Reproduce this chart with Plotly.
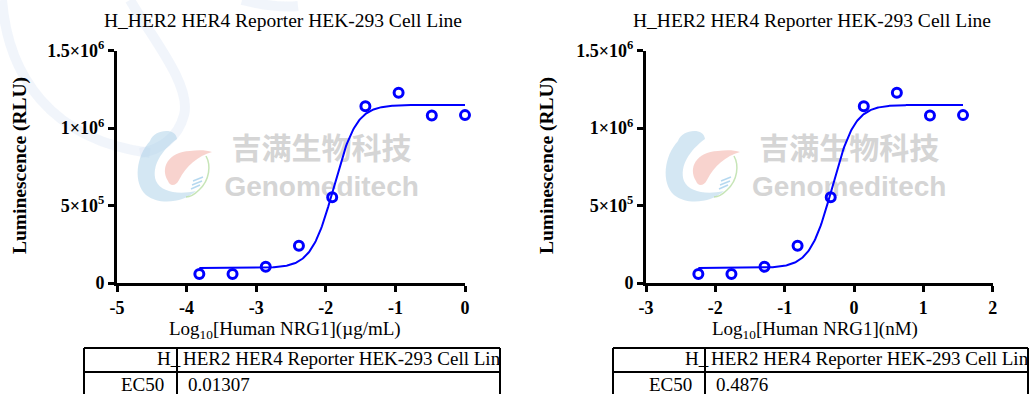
import plotly.graph_objects as go
import math

# ---------------- data ----------------
log_conc_ugml = [-3.817, -3.340, -2.863, -2.386, -1.908, -1.431, -0.954, -0.477, 0.0]
log_conc_nM = [-2.245, -1.768, -1.291, -0.814, -0.336, 0.141, 0.618, 1.095, 1.572]
rlu = [58000, 58000, 105000, 241000, 553000, 1142000, 1228000, 1082000, 1084000]

# 4PL fit parameters (GraphPad-style curve)
fit_bottom = 97000
fit_top = 1150000
fit_hill = 2.7
ec50_ugml = 0.01307
ec50_nM = 0.4876

x_ticks_left = [-5, -4, -3, -2, -1, 0]
x_ticks_right = [-3, -2, -1, 0, 1, 2]
y_ticks = [0, 500000, 1000000, 1500000]
y_ticktext = ["0", "5×10<sup>5</sup>", "1×10<sup>6</sup>", "1.5×10<sup>6</sup>"]

title_text = "H_HER2 HER4 Reporter HEK-293 Cell Line"
table_header = "HER2 HER4 Reporter HEK-293 Cell Line"
row_label = "EC50"
ec50_text_left = "0.01307"
ec50_text_right = "0.4876"


def four_pl(x, logec50):
    return fit_bottom + (fit_top - fit_bottom) / (1 + 10 ** ((logec50 - x) * fit_hill))


def curve(xs):
    lo, hi = min(xs), max(xs)
    n = 300
    return [lo + (hi - lo) * i / (n - 1) for i in range(n)]


W, H = 1031, 394


def X(px):
    return px / W


def Y(py):
    return 1 - py / H


BLUE = "rgb(0,0,255)"
SERIF = "Liberation Serif, Times New Roman, serif"

fig = go.Figure()

# watermark text (drawn first, under data)
for xa, ya, cx in [("x", "y", -2.06), ("x2", "y2", -0.07)]:
    fig.add_trace(go.Scatter(x=[cx], y=[8.52e5], mode="text", text=["吉满生物科技"],
                             textfont=dict(family="Noto Sans CJK SC", size=30, color="rgb(213,213,213)", weight="bold"),
                             xaxis=xa, yaxis=ya, hoverinfo="skip", showlegend=False))
    fig.add_trace(go.Scatter(x=[cx], y=[6.07e5], mode="text", text=["Genomeditech"],
                             textfont=dict(family="Liberation Sans", size=28, color="rgb(213,213,213)", weight="bold"),
                             xaxis=xa, yaxis=ya, hoverinfo="skip", showlegend=False))

# curves + points
for xs, lec, xa, ya in [(log_conc_ugml, math.log10(ec50_ugml), "x", "y"),
                        (log_conc_nM, math.log10(ec50_nM), "x2", "y2")]:
    cx = curve(xs)
    fig.add_trace(go.Scatter(x=cx, y=[four_pl(v, lec) for v in cx], mode="lines",
                             line=dict(color=BLUE, width=2), xaxis=xa, yaxis=ya,
                             showlegend=False, hoverinfo="skip"))
    fig.add_trace(go.Scatter(x=xs, y=rlu, mode="markers",
                             marker=dict(symbol="circle-open", size=9, color=BLUE, line=dict(color=BLUE, width=3)),
                             xaxis=xa, yaxis=ya, showlegend=False, cliponaxis=False))

axis_common = dict(showline=True, linecolor="black", linewidth=3, ticks="outside", ticklen=6,
                   tickwidth=3, tickcolor="black", showgrid=False, zeroline=False, automargin=False,
                   tickfont=dict(family=SERIF, size=18, color="black"))


def bold(labels):
    return ["<b>" + str(t) + "</b>" for t in labels]


ydom = [Y(283), Y(50.7)]
fig.update_layout(
    template="none",
    width=W, height=H, margin=dict(l=0, r=0, t=0, b=0, pad=0, autoexpand=False),
    paper_bgcolor="white", plot_bgcolor="rgba(0,0,0,0)", showlegend=False,
    xaxis=dict(domain=[X(117), X(465)], range=[-5, 0], tickvals=x_ticks_left,
               ticktext=bold(x_ticks_left), anchor="y", **axis_common),
    yaxis=dict(domain=ydom, range=[0, 1.5e6], tickvals=y_ticks, ticktext=bold(y_ticktext),
               anchor="x", **axis_common),
    xaxis2=dict(domain=[X(646), X(992.7)], range=[-3, 2], tickvals=x_ticks_right,
                ticktext=bold(x_ticks_right), anchor="y2", **axis_common),
    yaxis2=dict(domain=ydom, range=[0, 1.5e6], tickvals=y_ticks, ticktext=bold(y_ticktext),
                anchor="x2", **axis_common),
)

shapes = []
annotations = []


def pth(segs, dx=0):
    out = []
    for cmd, pts in segs:
        s = cmd + " " + " ".join(f"{X(px + dx):.5f},{Y(py):.5f}" for px, py in pts)
        out.append(s)
    return " ".join(out)


# faint background arcs (watermark)
arc_col = "rgba(225,232,246,0.45)"
for segs in [
    [("M", [(2, 0)]), ("C", [(8, 75), (50, 140), (150, 153)])],
    [("M", [(130, 0)]), ("C", [(150, 35), (192, 85), (184, 115)]), ("C", [(178, 138), (160, 150), (140, 153)])],
    [("M", [(242, 0)]), ("C", [(258, 4), (280, 8), (298, 6)])],
]:
    shapes.append(dict(type="path", xref="paper", yref="paper", path=pth(segs), layer="below",
                       line=dict(color=arc_col, width=10)))

# logo
for dx in (0, 528):
    shapes.append(dict(type="path", xref="paper", yref="paper", layer="below",
                       path=pth([("M", [(150, 141)]), ("C", [(154, 129), (176, 127), (177, 139)]),
                                 ("C", [(162, 150), (151, 166), (156, 181)]),
                                 ("C", [(161, 192), (178, 195), (196, 191)]),
                                 ("C", [(184, 202), (160, 206), (146, 195)]),
                                 ("C", [(133, 183), (136, 156), (150, 141)])], dx) + " Z",
                       fillcolor="rgba(170,208,232,0.5)", line=dict(width=0)))
    shapes.append(dict(type="path", xref="paper", yref="paper", layer="below",
                       path=pth([("M", [(168, 181)]), ("C", [(160, 168), (168, 152), (190, 151)]),
                                 ("C", [(198, 150), (206, 150), (212, 152)]),
                                 ("C", [(198, 156), (186, 166), (179, 180)]),
                                 ("C", [(176, 186), (170, 187), (168, 181)])], dx) + " Z",
                       fillcolor="rgba(243,175,165,0.55)", line=dict(width=0)))
    shapes.append(dict(type="path", xref="paper", yref="paper", layer="below",
                       path=pth([("M", [(206, 156)]), ("C", [(211, 165), (210, 180), (199, 190)]),
                                 ("C", [(194, 195), (189, 197), (186, 197)])], dx),
                       line=dict(color="rgba(185,222,165,0.8)", width=1.5)))
    for (x0, y0, x1, y1) in [(193, 181, 203, 177), (192, 185, 202, 181), (191, 189, 200, 185)]:
        shapes.append(dict(type="line", xref="paper", yref="paper", layer="below",
                           x0=X(x0 + dx), y0=Y(y0), x1=X(x1 + dx), y1=Y(y1),
                           line=dict(color="rgba(150,200,232,0.7)", width=1.5)))

# tables
for (l, mid, r) in [(84, 177, 500), (613, 705, 1028)]:
    for (x0, y0, x1, y1) in [(l, 348, r, 348), (l, 372, r, 372), (l, 348, l, 400),
                             (mid, 348, mid, 400), (r, 348, r, 400)]:
        shapes.append(dict(type="line", xref="paper", yref="paper", x0=X(x0), y0=Y(y0),
                           x1=X(x1), y1=Y(y1), line=dict(color="black", width=2)))

fig.update_layout(shapes=shapes)


def ann(text, x, y, size=19, xanchor="center", yanchor="middle", bold=False, angle=0, **kw):
    annotations.append(dict(text=text, x=X(x), y=Y(y), xref="paper", yref="paper",
                            xanchor=xanchor, yanchor=yanchor, showarrow=False, textangle=angle,
                            font=dict(family=SERIF, size=size, color="black",
                                      weight="bold" if bold else "normal"), **kw))


# titles
ann(title_text, 283, 20, size=19.5)
ann(title_text, 812, 20, size=19.5)
# y-axis titles
ann("Luminescence (RLU)", 20, 166, size=19.5, bold=True, angle=-90)
ann("Luminescence (RLU)", 547, 166, size=19.5, bold=True, angle=-90)
# x-axis titles
ann("Log<sub>10</sub>[Human NRG1](µg/mL)", 285, 330)
ann("Log<sub>10</sub>[Human NRG1](nM)", 815, 330)

# table text
for (mid, r, ec) in [(177, 500, ec50_text_left), (705, 1028, ec50_text_right)]:
    ann("H_", mid + 6, 358, xanchor="right")
    ann(table_header, mid + 4, 358, xanchor="left", width=r - mid - 5, align="left")
    ann(row_label, mid - 11, 384, xanchor="right")
    ann(ec, mid + 9, 384, xanchor="left")

fig.update_layout(annotations=annotations)

fig.write_html("out.html", config={"displayModeBar": False, "staticPlot": True},
               post_script="document.body.style.margin='0';document.body.style.overflow='hidden';")
